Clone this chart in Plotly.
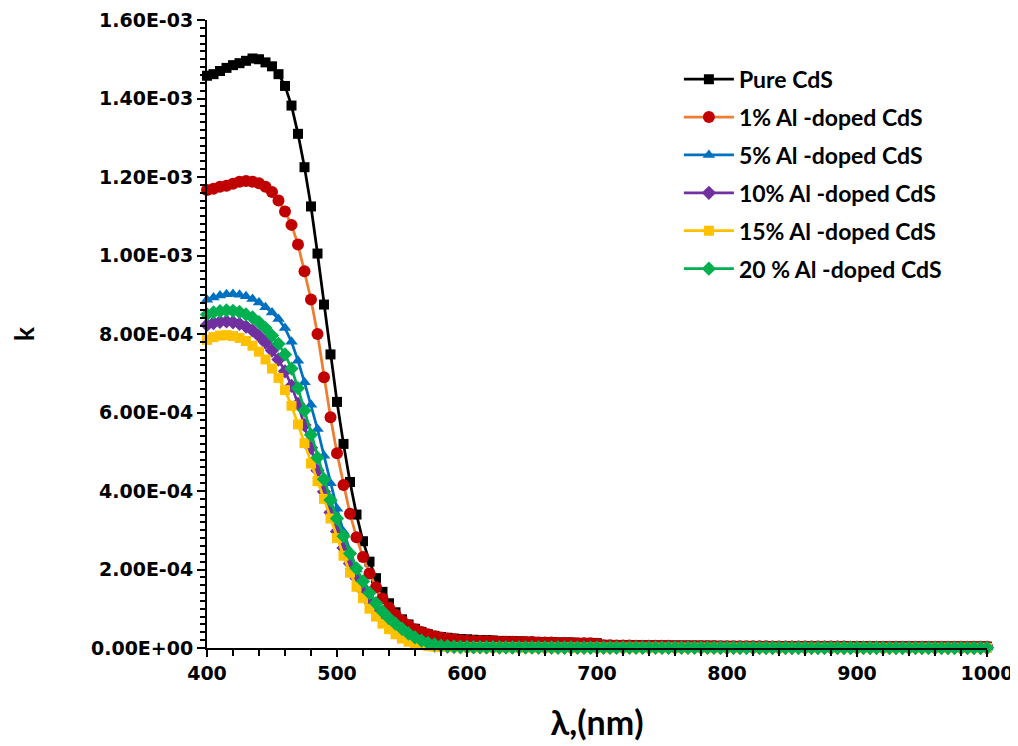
import plotly.graph_objects as go

# wavelength grid (nm)
wavelength = list(range(400, 1001, 5))

# k values in units of 1e-3
k_pure = [1.458,1.462,1.470,1.478,1.485,1.490,1.496,1.502,1.500,1.492,1.482,
          1.462,1.432,1.382,1.310,1.225,1.125,1.005,0.875,0.748,0.627,
          0.520,0.423,0.340,0.272,0.220,0.178,0.143,0.114,0.091,0.073,
          0.060,0.049,0.041,0.035,0.031,0.028,0.026,0.024,0.023,0.022,
          0.021,0.020,0.020,0.019,0.018,0.018,0.017,0.017,0.016,0.016,
          0.015,0.015,0.015,0.014,0.014,0.014,0.013,0.013,0.013,0.012,
          0.0080,0.0078,0.0076,0.0074,0.0072,0.0070,0.0068,0.0066,0.0065,0.0064,
          0.0063,0.0062,0.0061,0.0060,0.0059,0.0058,0.0057,0.0056,0.0055,0.0054,
          0.0053,0.0052,0.0052,0.0051,0.0050,0.0050,0.0049,0.0048,0.0048,0.0047,
          0.0047,0.0046,0.0046,0.0045,0.0045,0.0044,0.0044,0.0043,0.0043,0.0042,
          0.0042,0.0041,0.0041,0.0041,0.0040,0.0040,0.0040,0.0039,0.0039,0.0039,
          0.0038,0.0038,0.0038,0.0037,0.0037,0.0037,0.0036,0.0036,0.0036,0.0035]

k_al1 = [1.167,1.170,1.175,1.178,1.183,1.188,1.190,1.188,1.184,1.175,1.162,
         1.140,1.112,1.078,1.028,0.960,0.888,0.800,0.690,0.588,0.496,
         0.415,0.342,0.282,0.232,0.190,0.155,0.126,0.103,0.085,0.070,
         0.058,0.048,0.041,0.035,0.030,0.027,0.024,0.022,0.020,0.019,
         0.018,0.018,0.017,0.017,0.016,0.016,0.016,0.015,0.015,0.015,
         0.014,0.014,0.014,0.013,0.013,0.013,0.012,0.012,0.012,0.011,
         0.0070,0.0068,0.0066,0.0064,0.0062,0.0060,0.0059,0.0058,0.0057,0.0056,
         0.0055,0.0054,0.0053,0.0052,0.0051,0.0050,0.0049,0.0048,0.0047,0.0046,
         0.0045,0.0045,0.0044,0.0043,0.0043,0.0042,0.0041,0.0041,0.0040,0.0040,
         0.0039,0.0039,0.0038,0.0038,0.0037,0.0037,0.0036,0.0036,0.0035,0.0035,
         0.0035,0.0034,0.0034,0.0033,0.0033,0.0033,0.0032,0.0032,0.0032,0.0031,
         0.0031,0.0031,0.0030,0.0030,0.0030,0.0030,0.0029,0.0029,0.0029,0.0029]

k_al5 = [0.887,0.893,0.898,0.901,0.902,0.900,0.896,0.889,0.880,0.868,0.855,
         0.838,0.815,0.780,0.732,0.677,0.620,0.558,0.490,0.420,0.355,
         0.296,0.245,0.200,0.162,0.132,0.108,0.088,0.072,0.057,0.044,
         0.033,0.024,0.017,0.012,0.009,0.007,0.006,0.005,0.004,0.0035,
         0.0032,0.0030,0.0028,0.0026,0.0025,0.0024,0.0023,0.0022,0.0021,0.0020,
         0.0019,0.0019,0.0018,0.0018,0.0017,0.0017,0.0016,0.0016,0.0015,0.0015,
         0.0015,0.0014,0.0014,0.0014,0.0013,0.0013,0.0013,0.0013,0.0012,0.0012,
         0.0012,0.0012,0.0012,0.0011,0.0011,0.0011,0.0011,0.0011,0.0011,0.0010,
         0.0010,0.0010,0.0010,0.0010,0.0010,0.0010,0.0009,0.0009,0.0009,0.0009,
         0.0009,0.0009,0.0009,0.0009,0.0009,0.0008,0.0008,0.0008,0.0008,0.0008,
         0.0008,0.0008,0.0008,0.0008,0.0008,0.0008,0.0007,0.0007,0.0007,0.0007,
         0.0007,0.0007,0.0007,0.0007,0.0007,0.0007,0.0007,0.0006,0.0006,0.0006]

k_al10 = [0.823,0.828,0.831,0.832,0.830,0.826,0.819,0.809,0.795,0.778,0.758,
          0.735,0.705,0.668,0.622,0.568,0.510,0.452,0.398,0.345,0.297,
          0.255,0.215,0.178,0.146,0.118,0.095,0.076,0.060,0.047,0.036,
          0.027,0.019,0.013,0.009,0.006,0.0045,0.0035,0.0030,0.0026,0.0023,
          0.0021,0.0020,0.0019,0.0018,0.0017,0.0016,0.0015,0.0015,0.0014,0.0014,
          0.0013,0.0013,0.0013,0.0012,0.0012,0.0012,0.0011,0.0011,0.0011,0.0011,
          0.0010,0.0010,0.0010,0.0010,0.0010,0.0009,0.0009,0.0009,0.0009,0.0009,
          0.0009,0.0008,0.0008,0.0008,0.0008,0.0008,0.0008,0.0008,0.0007,0.0007,
          0.0007,0.0007,0.0007,0.0007,0.0007,0.0007,0.0007,0.0006,0.0006,0.0006,
          0.0006,0.0006,0.0006,0.0006,0.0006,0.0006,0.0006,0.0006,0.0005,0.0005,
          0.0005,0.0005,0.0005,0.0005,0.0005,0.0005,0.0005,0.0005,0.0005,0.0005,
          0.0005,0.0005,0.0004,0.0004,0.0004,0.0004,0.0004,0.0004,0.0004,0.0004]

k_al15 = [0.785,0.792,0.796,0.797,0.795,0.790,0.782,0.770,0.755,0.735,0.712,
          0.688,0.657,0.617,0.570,0.522,0.470,0.425,0.380,0.330,0.280,
          0.235,0.192,0.156,0.127,0.100,0.080,0.062,0.048,0.035,0.024,
          0.016,0.011,0.0075,0.0050,0.0035,0.0028,0.0024,0.0021,0.0019,0.0017,
          0.0016,0.0015,0.0014,0.0013,0.0013,0.0012,0.0012,0.0011,0.0011,0.0010,
          0.0010,0.0010,0.0009,0.0009,0.0009,0.0009,0.0008,0.0008,0.0008,0.0008,
          0.0008,0.0007,0.0007,0.0007,0.0007,0.0007,0.0007,0.0006,0.0006,0.0006,
          0.0006,0.0006,0.0006,0.0006,0.0006,0.0005,0.0005,0.0005,0.0005,0.0005,
          0.0005,0.0005,0.0005,0.0005,0.0005,0.0005,0.0004,0.0004,0.0004,0.0004,
          0.0004,0.0004,0.0004,0.0004,0.0004,0.0004,0.0004,0.0004,0.0004,0.0004,
          0.0003,0.0003,0.0003,0.0003,0.0003,0.0003,0.0003,0.0003,0.0003,0.0003,
          0.0003,0.0003,0.0003,0.0003,0.0003,0.0003,0.0003,0.0003,0.0003,0.0003]

k_al20 = [0.850,0.855,0.858,0.860,0.859,0.856,0.850,0.842,0.830,0.815,0.796,
          0.775,0.748,0.712,0.662,0.605,0.543,0.485,0.430,0.377,0.330,
          0.285,0.241,0.203,0.170,0.140,0.114,0.093,0.076,0.062,0.049,
          0.037,0.027,0.019,0.013,0.009,0.006,0.0045,0.0035,0.0030,0.0026,
          0.0024,0.0022,0.0021,0.0020,0.0019,0.0018,0.0017,0.0016,0.0016,0.0015,
          0.0015,0.0014,0.0014,0.0013,0.0013,0.0013,0.0012,0.0012,0.0012,0.0011,
          0.0011,0.0011,0.0011,0.0010,0.0010,0.0010,0.0010,0.0010,0.0009,0.0009,
          0.0009,0.0009,0.0009,0.0009,0.0008,0.0008,0.0008,0.0008,0.0008,0.0008,
          0.0008,0.0008,0.0007,0.0007,0.0007,0.0007,0.0007,0.0007,0.0007,0.0007,
          0.0007,0.0006,0.0006,0.0006,0.0006,0.0006,0.0006,0.0006,0.0006,0.0006,
          0.0006,0.0006,0.0006,0.0005,0.0005,0.0005,0.0005,0.0005,0.0005,0.0005,
          0.0005,0.0005,0.0005,0.0005,0.0005,0.0005,0.0005,0.0005,0.0005,0.0005]

series_names = ["Pure CdS", "1% Al -doped CdS", "5% Al -doped CdS",
                "10% Al -doped CdS", "15% Al -doped CdS", "20 % Al -doped CdS"]
series_values = [k_pure, k_al1, k_al5, k_al10, k_al15, k_al20]

# styles
line_colors = ["#000000", "#ED7D31", "#0070C0", "#7030A0", "#FFC000", "#00B050"]
marker_colors = ["#000000", "#C00000", "#0070C0", "#7030A0", "#FFC000", "#00B050"]
marker_symbols = ["square", "circle", "triangle-up", "diamond", "square", "diamond"]
marker_sizes = [10, 12, 11, 11, 10, 11]

y_tickvals = [0, 0.0002, 0.0004, 0.0006, 0.0008, 0.0010, 0.0012, 0.0014, 0.0016]
y_ticktext = ["0.00E+00", "2.00E-04", "4.00E-04", "6.00E-04", "8.00E-04",
              "1.00E-03", "1.20E-03", "1.40E-03", "1.60E-03"]

fig = go.Figure()
for i, (name, vals) in enumerate(zip(series_names, series_values)):
    fig.add_trace(go.Scatter(
        x=wavelength,
        y=[v * 1e-3 for v in vals],
        mode="lines+markers",
        name=name,
        legendgroup=f"g{i}",
        cliponaxis=False,
        line=dict(color=line_colors[i], width=2.75),
        marker=dict(color=marker_colors[i], symbol=marker_symbols[i],
                    size=marker_sizes[i], line=dict(width=0)),
    ))

tick_font = dict(family="DejaVu Sans", size=19, color="#000000", weight="bold")

fig.update_layout(
    width=1010, height=738,
    margin=dict(l=199, r=31, t=12, b=98),
    paper_bgcolor="white", plot_bgcolor="white",
    showlegend=True,
    legend=dict(
        x=0.605, y=0.94, xanchor="left", yanchor="top",
        font=dict(family="Lato", size=23, color="#000000", weight="bold"),
        traceorder="grouped", tracegroupgap=5,
        bgcolor="rgba(0,0,0,0)", itemwidth=50,
    ),
    xaxis=dict(
        range=[400, 1000], tickvals=[400, 500, 600, 700, 800, 900, 1000],
        showline=True, linecolor="#000000", linewidth=2,
        ticks="outside", ticklen=7, tickwidth=2, tickcolor="#000000",
        minor=dict(dtick=20, ticks="outside", ticklen=6, tickwidth=2, tickcolor="#000000"),
        showgrid=False, zeroline=False, tickfont=tick_font, automargin=False,
        title=dict(text="λ,(nm)", standoff=28,
                   font=dict(family="Lato", size=34, color="#000000", weight="bold")),
    ),
    yaxis=dict(
        range=[0, 0.0016], tickvals=y_tickvals, ticktext=y_ticktext,
        showline=True, linecolor="#000000", linewidth=2,
        ticks="outside", ticklen=8, tickwidth=2, tickcolor="#000000",
        minor=dict(dtick=0.00002, ticks="outside", ticklen=5, tickwidth=1.5, tickcolor="#000000"),
        showgrid=False, zeroline=False, tickfont=tick_font, automargin=False,
        title=dict(text="k", standoff=50,
                   font=dict(family="Lato", size=26, color="#000000", weight="bold")),
    ),
)

fig.write_html("out.html")
